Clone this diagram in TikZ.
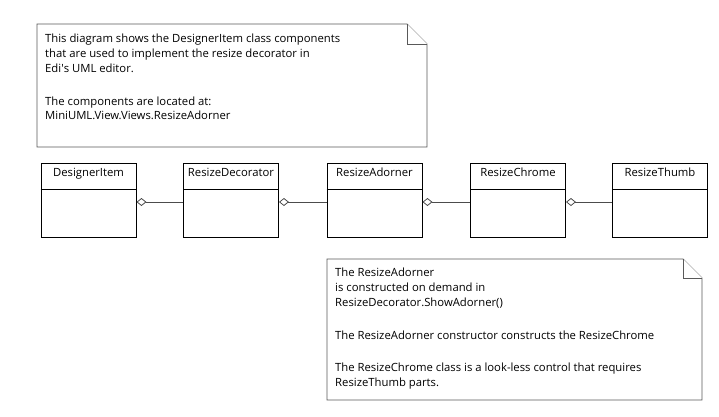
\documentclass[tikz,border=0pt]{standalone}
\usepackage{fontspec}
\setmainfont{Open Sans}
\usetikzlibrary{arrows.meta,calc}
\begin{document}
\begin{tikzpicture}[x=1pt,y=-1pt,
  every node/.style={font=\fontsize{11.3}{14.8}\selectfont, inner sep=0pt},
  clsbox/.style={draw=black, line width=0.9pt, minimum width=95pt, minimum height=74pt},
  notebox/.style={draw=black!65, line width=0.9pt, fill=white},
  notetext/.style={anchor=north west, align=left},
  agg/.style={draw=black!70, line width=0.9pt, -{Diamond[open,length=10pt,width=8pt,line width=0.8pt]}}
]
\useasboundingbox (0,0) rectangle (719,416);

% Note 1
\draw[notebox] (37,24) -- (407,24) -- (427,44) -- (427,147) -- (37,147) -- cycle;
\draw[notebox] (407,24) -- (407,44) -- (427,44);
\node[notetext] (n1) at (45,34) {This diagram shows the DesignerItem class components\\that are used to implement the resize decorator in\\Edi\textquotesingle s UML editor.\\[18pt]The components are located at:\\MiniUML.View.Views.ResizeAdorner};

% Classes
\foreach \nm/\x/\lbl in {di/88.5/DesignerItem, rd/231/ResizeDecorator, ra/374.5/ResizeAdorner, rc/518/ResizeChrome, rt/660/ResizeThumb}{
  \node[clsbox] (\nm) at (\x,200) {};
  \draw[line width=0.9pt] ($(\nm.north west)+(0,27)$) -- ($(\nm.north east)+(0,27)$);
  \node[anchor=base] (\nm-name) at ($(\nm.north)+(0,14)$) {\lbl};
}

% Aggregations
\draw[agg] ([yshift=-2pt]rd.west) -- ([yshift=-2pt]di.east);
\draw[agg] ([yshift=-2pt]ra.west) -- ([yshift=-2pt]rd.east);
\draw[agg] ([yshift=-2pt]rc.west) -- ([yshift=-2pt]ra.east);
\draw[agg] ([yshift=-2pt]rt.west) -- ([yshift=-2pt]rc.east);

% Note 2
\draw[notebox] (327,259) -- (683,259) -- (702,278) -- (702,400) -- (327,400) -- cycle;
\draw[notebox] (683,259) -- (683,278) -- (702,278);
\node[notetext] (n2) at (335,268) {The ResizeAdorner\\is constructed on demand in\\ResizeDecorator.ShowAdorner()\\[18.5pt]The ResizeAdorner constructor constructs the ResizeChrome\\[17pt]The ResizeChrome class is a look-less control that requires\\ResizeThumb parts.};
\end{tikzpicture}
\end{document}
